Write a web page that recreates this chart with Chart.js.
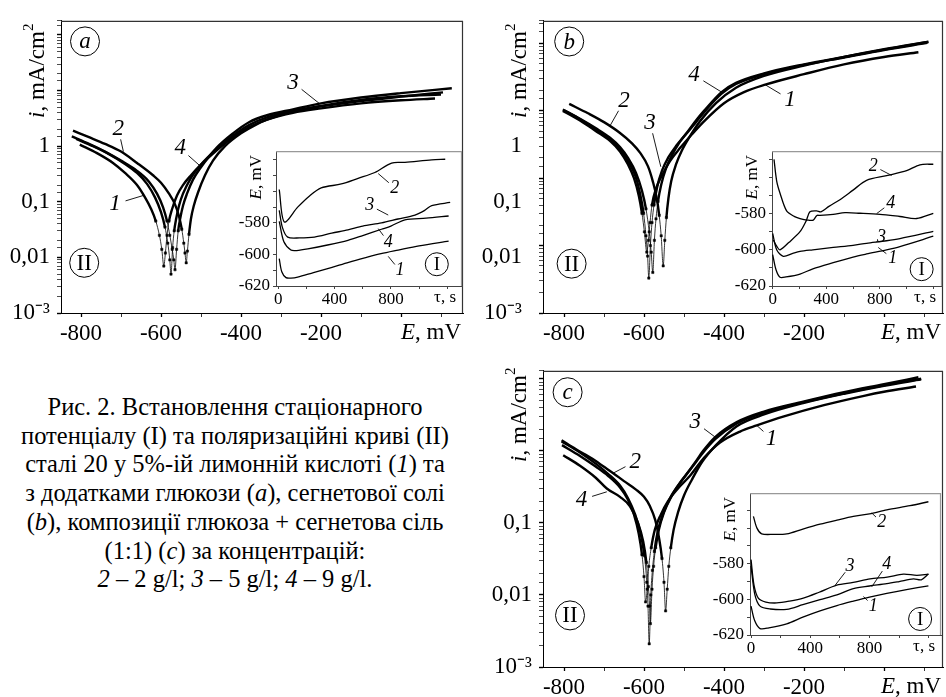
<!DOCTYPE html>
<html>
<head>
<meta charset="utf-8">
<script src="https://cdn.jsdelivr.net/npm/chart.js@4.4.1/dist/chart.umd.min.js"></script>
<style>
  html, body { margin: 0; padding: 0; background: #fff; }
  #page { position: relative; width: 946px; height: 697px; overflow: hidden; }
  .box { position: absolute; }
  #caption {
    position: absolute; left: 0; top: 393px; width: 470px; text-align: center;
    font-family: 'Liberation Serif', 'Times New Roman', serif;
    font-size: 24.5px; line-height: 28.7px; color: #000; white-space: nowrap;
  }
</style>
</head>
<body>
<div id="page">
  <div class="box" style="left:0;top:0"><canvas id="mainA" width="470" height="345"></canvas></div>
  <div class="box" style="left:470px;top:0"><canvas id="mainB" width="476" height="345"></canvas></div>
  <div class="box" style="left:470px;top:350px"><canvas id="mainC" width="476" height="347"></canvas></div>
  <div class="box" style="left:228px;top:138px"><canvas id="insetA" width="238" height="168"></canvas></div>
  <div class="box" style="left:724px;top:138px"><canvas id="insetB" width="222" height="168"></canvas></div>
  <div class="box" style="left:702px;top:480px"><canvas id="insetC" width="244" height="175"></canvas></div>
  <div id="caption">
    Рис. 2. Встановлення стаціонарного<br>
    потенціалу (I) та поляризаційні криві (II)<br>
    сталі 20 у 5%-ій лимонній кислоті (<i>1</i>) та<br>
    з додатками глюкози (<i>a</i>), сегнетової солі<br>
    (<i>b</i>), композиції глюкоза + сегнетова сіль<br>
    (1:1) (<i>c</i>) за концентрацій:<br>
    <i>2</i> – 2 g/l; <i>3</i> – 5 g/l; <i>4</i> – 9 g/l.
  </div>
</div>
<script>
// ---- polarization curves (II): E, mV  /  i, mA/cm2 ----
// panel a (glucose)
const aE1 = [-803,-760,-720,-690,-660,-640,-625,-613,-604,-598,-593,-589,-585,-580,-572,-560,-545,-525,-502,-460,-420,-380,-335,-270,-200,-100,0,85];
const aI1 = [1.07,0.75,0.5,0.33,0.2,0.12,0.075,0.045,0.025,0.014,0.007,0.012,0.025,0.045,0.075,0.13,0.2,0.3,0.45,0.85,1.45,2.2,3.0,4.0,4.8,5.9,6.7,7.2];
const aE2 = [-820,-780,-740,-700,-660,-620,-600,-580,-565,-555,-548,-543,-540,-537,-534,-530,-525,-518,-507,-490,-470,-440,-400,-360,-335,-270,-200,-100,0,100];
const aI2 = [1.9,1.45,1.1,0.8,0.5,0.3,0.22,0.14,0.09,0.055,0.032,0.018,0.012,0.008,0.013,0.026,0.05,0.085,0.15,0.3,0.55,1.0,1.7,2.5,3.0,4.2,5.3,6.8,7.9,8.5];
const aE3 = [-823,-780,-740,-700,-660,-630,-610,-595,-585,-578,-572,-568,-565,-561,-557,-552,-545,-535,-520,-502,-460,-420,-380,-335,-270,-200,-100,0,127];
const aI3 = [1.5,1.1,0.8,0.55,0.36,0.23,0.14,0.08,0.045,0.025,0.014,0.009,0.006,0.014,0.03,0.05,0.085,0.14,0.25,0.4,0.95,1.7,2.7,3.6,4.6,5.9,7.5,9.0,11];
const aE4 = [-812,-770,-730,-690,-660,-635,-615,-600,-590,-583,-578,-575,-571,-567,-562,-555,-545,-525,-502,-460,-420,-380,-335,-270,-200,-100,0,105];
const aI4 = [1.35,1.0,0.72,0.48,0.33,0.21,0.12,0.065,0.035,0.018,0.009,0.005,0.015,0.03,0.05,0.085,0.14,0.27,0.45,0.9,1.55,2.4,3.3,4.3,5.2,6.5,7.8,9.3];

// panel b (Rochelle salt)
const bE1 = [-803,-760,-720,-685,-660,-640,-625,-613,-605,-599,-593,-589,-585,-580,-570,-555,-535,-510,-480,-450,-400,-350,-297,-200,-100,0,86];
const bI1 = [1.0,0.72,0.5,0.36,0.25,0.16,0.1,0.055,0.03,0.016,0.008,0.012,0.022,0.04,0.07,0.11,0.18,0.28,0.45,0.7,1.3,1.9,2.45,3.5,4.9,6.3,7.4];
const bE2 = [-787,-740,-700,-660,-630,-610,-590,-578,-568,-562,-557,-552,-548,-544,-539,-532,-520,-505,-485,-460,-420,-370,-300,-200,-100,0,111];
const bI2 = [1.27,0.92,0.68,0.47,0.33,0.24,0.15,0.09,0.05,0.028,0.014,0.005,0.012,0.026,0.05,0.09,0.16,0.26,0.42,0.7,1.3,2.2,3.3,4.7,6.3,8.2,10.6];
const bE3 = [-803,-760,-720,-685,-660,-640,-622,-610,-601,-595,-591,-588,-584,-580,-575,-567,-555,-540,-520,-495,-470,-450,-406,-370,-300,-200,-100,0,108];
const bI3 = [1.05,0.75,0.53,0.38,0.27,0.18,0.11,0.06,0.03,0.014,0.007,0.0033,0.01,0.022,0.04,0.075,0.13,0.2,0.3,0.45,0.68,0.95,1.8,2.5,3.5,4.8,6.2,8.0,10.2];
const bE4 = [-800,-760,-720,-685,-660,-640,-620,-605,-595,-587,-582,-578,-574,-570,-565,-557,-545,-530,-510,-490,-470,-450,-406,-370,-300,-200,-100,0,111];
const bI4 = [1.02,0.76,0.55,0.4,0.29,0.2,0.12,0.065,0.035,0.016,0.008,0.004,0.012,0.025,0.045,0.08,0.14,0.22,0.35,0.5,0.72,1.0,1.9,2.6,3.6,4.9,6.3,8.1,10.5];

// panel c (glucose + Rochelle salt)
const cE1 = [-805,-760,-720,-690,-660,-640,-625,-613,-605,-600,-596,-592,-588,-582,-573,-558,-540,-515,-485,-450,-410,-360,-318,-250,-150,-50,0,80];
const cI1 = [1.2,0.85,0.6,0.45,0.31,0.21,0.13,0.07,0.036,0.018,0.008,0.012,0.025,0.045,0.08,0.13,0.2,0.3,0.45,0.8,1.3,1.85,2.25,3.0,4.3,5.8,6.6,7.8];
const cE2 = [-806,-770,-730,-700,-677,-650,-620,-600,-585,-572,-562,-555,-550,-546,-542,-538,-533,-526,-515,-500,-480,-455,-420,-368,-300,-202,-100,0,93];
const cI2 = [1.4,1.05,0.78,0.6,0.49,0.38,0.29,0.23,0.17,0.11,0.06,0.032,0.015,0.006,0.012,0.025,0.045,0.08,0.14,0.24,0.4,0.7,1.2,2.2,3.2,4.6,6.2,8.0,9.8];
const cE3 = [-806,-760,-720,-690,-660,-640,-622,-608,-599,-593,-590,-587,-583,-579,-574,-566,-553,-535,-510,-493,-470,-452,-422,-368,-300,-202,-100,0,86];
const cI3 = [1.35,0.95,0.66,0.48,0.33,0.22,0.13,0.07,0.035,0.015,0.007,0.0021,0.01,0.022,0.04,0.075,0.13,0.22,0.36,0.48,0.72,1.0,1.55,2.5,3.5,4.8,6.5,8.4,10.5];
const cE4 = [-802,-760,-720,-693,-660,-635,-615,-602,-594,-589,-586,-584,-580,-576,-571,-563,-550,-532,-508,-490,-470,-452,-422,-368,-300,-202,-100,0,93];
const cI4 = [0.87,0.62,0.42,0.3,0.23,0.17,0.1,0.055,0.028,0.013,0.007,0.004,0.012,0.025,0.045,0.08,0.14,0.23,0.37,0.5,0.7,0.95,1.45,2.4,3.4,4.7,6.3,8.1,10.0];

// ---- stationary potential insets (I): tau, s  /  E, mV ----
const iaT1 = [7,25,55,90,138,250,376,500,614,730,852,1000,1210];
const iaE1 = [-602.6,-611,-614.7,-615,-614.4,-611.5,-608.3,-605,-602.2,-599.5,-597.2,-594.5,-591.5];
const iaT2 = [7,43,138,220,305,448,567,686,805,900,1090,1186];
const iaE2 = [-558.8,-579.4,-570,-563,-557.8,-555.3,-551.7,-548,-542,-541.6,-540,-539.6];
const iaT3 = [7,30,67,150,257,380,495,600,733,850,971,1040,1090,1221];
const iaE3 = [-572,-583,-589,-589.5,-589,-586.5,-584.4,-582,-580,-577.5,-575,-572,-569,-567];
const iaT4 = [7,40,90,130,210,350,495,600,733,800,900,1050,1210];
const iaE4 = [-579,-592,-597.2,-597.5,-596.5,-594,-591,-588,-584,-582,-578,-577,-575.6];

const ibT1 = [0,25,55,100,204,300,452,600,701,850,950,1199];
const ibE1 = [-602.6,-611,-615.2,-615,-613.4,-610.5,-607.1,-604,-602.3,-600,-598.2,-592.5];
const ibT2 = [5,30,55,120,204,250,278,328,360,420,502,600,701,851,1000,1099,1199];
const ibE2 = [-594.6,-598,-600,-596,-590,-584,-579,-578.5,-579,-576,-572.3,-567,-561.6,-559,-556.3,-553,-552.7];
const ibT3 = [0,30,79,150,204,300,452,600,701,850,950,1199];
const ibE3 = [-591,-600,-603.6,-602,-600.9,-600,-598.7,-597.5,-596.4,-595,-593.8,-589.8];
const ibT4 = [10,30,55,104,160,204,260,303,330,353,452,540,652,801,950,1075,1199];
const ibE4 = [-550,-562,-568.7,-578.5,-581.5,-582.7,-583.6,-583.6,-581,-581,-580.4,-579.5,-579.8,-580.4,-581.6,-582.7,-579.8];

const icT1 = [0,25,61,120,241,350,466,580,691,800,917,1050,1198];
const icE1 = [-603.8,-612,-616.4,-616,-613.7,-610,-606.5,-603.5,-601,-598.7,-596.6,-594.5,-592.4];
const icT2 = [16,40,72,150,241,350,466,580,691,800,917,1074,1198];
const icE2 = [-553.4,-560,-563.2,-563.5,-563.2,-560.5,-557.8,-555.5,-553.4,-552,-549.7,-547.4,-545.2];
const icT3 = [0,20,49,100,174,260,353,460,579,690,804,920,1029,1120,1198];
const icE3 = [-577.7,-592,-599.3,-601.5,-602,-601,-599.3,-596,-592,-590.5,-588.5,-587.5,-585.8,-586.5,-585.8];
const icT4 = [0,25,61,130,241,350,466,580,691,800,917,1000,1097,1150,1198];
const icE4 = [-581.2,-597,-603.8,-605.4,-605.6,-603,-600.2,-597.5,-593.9,-592.5,-591.2,-590,-588.5,-589,-585.8];

// ticks and tick labels
const mainXTicks = [-800,-700,-600,-500,-400,-300,-200,-100,0,100];
const xTickLabels = [-800, -600, -400, -200];
const decadeLabels = { "-3": "10⁻³", "-2": "0,01", "-1": "0,1", "0": "1" };
const insetXTicks = [0,200,400,600,800,1000,1200];
const insetXLabels = [0, 400, 800];
const insetYTicks = [-620,-610,-600,-590,-580,-570,-560,-550,-540];
const insetYLabels = [-620, -600, -580];

const serif = "'Liberation Serif', 'Times New Roman', serif";
Chart.defaults.font.family = serif;
Chart.defaults.color = "#000";

function isDecade(v) {
  const l = Math.log10(v);
  return Math.abs(l - Math.round(l)) < 1e-6;
}

function fixedTicks(list) {
  return (s) => { s.ticks = list.filter((v) => v >= s.min && v <= s.max).map((v) => ({ value: v })); };
}

function drawRich(ctx, parts, x, y, size, rot, align) {
  ctx.save();
  ctx.translate(x, y);
  if (rot) ctx.rotate(-Math.PI / 2);
  const fontOf = (p) => (p[1] === "i" ? "italic " : "") + (p[1] === "s" ? Math.round(size * 0.65) : size) + "px " + serif;
  let w = 0;
  parts.forEach((p) => { ctx.font = fontOf(p); w += ctx.measureText(p[0]).width; });
  let cx = align === "right" ? -w : -w / 2;
  ctx.textAlign = "left";
  ctx.textBaseline = "middle";
  parts.forEach((p) => {
    ctx.font = fontOf(p);
    ctx.fillText(p[0], cx, p[1] === "s" ? -size * 0.38 : 0);
    cx += ctx.measureText(p[0]).width;
  });
  ctx.restore();
}

// curve numbers, circled marks, frame and axis titles
const notes = {
  id: "notes",
  afterDraw(chart, args, o) {
    const ctx = chart.ctx;
    const a = chart.chartArea;
    const X = chart.scales.x, Y = chart.scales.y;
    ctx.save();
    ctx.fillStyle = "#000";
    ctx.strokeStyle = o.frame;
    ctx.lineWidth = o.frameWidth;
    ctx.beginPath();
    ctx.moveTo(a.left, a.top + 0.5);
    ctx.lineTo(a.right - 0.5, a.top + 0.5);
    ctx.lineTo(a.right - 0.5, a.bottom);
    ctx.stroke();

    ctx.strokeStyle = "#000";
    ctx.textAlign = "center";
    ctx.textBaseline = "middle";
    o.labels.forEach((l) => {
      const x = X.getPixelForValue(l.x), y = Y.getPixelForValue(l.y);
      const tx = X.getPixelForValue(l.tx), ty = Y.getPixelForValue(l.ty);
      const d = Math.hypot(tx - x, ty - y);
      ctx.lineWidth = 0.9;
      ctx.beginPath();
      ctx.moveTo(x + (tx - x) / d * o.gap, y + (ty - y) / d * o.gap);
      ctx.lineTo(tx, ty);
      ctx.stroke();
      ctx.font = "italic " + o.size + "px " + serif;
      ctx.fillText(l.t, x, y);
    });
    o.marks.forEach((m) => {
      const x = X.getPixelForValue(m.x), y = Y.getPixelForValue(m.y);
      ctx.lineWidth = 1;
      ctx.beginPath();
      ctx.arc(x, y, o.r, 0, Math.PI * 2);
      ctx.stroke();
      ctx.font = (m.it ? "italic " : "") + o.markSize + "px " + serif;
      ctx.fillText(m.t, x, y + 1);
    });
    drawRich(ctx, o.yTitle, a.left + o.yPos[0], a.top + o.yPos[1], o.titleSize, true, "center");
    drawRich(ctx, o.xTitle, a.right + o.xPos[0], a.bottom + o.xPos[1], o.titleSize, false, "right");
    ctx.restore();
  },
};

function mainChart(id, curves, o) {
  const datasets = curves.map(([E, I]) => ({
    data: E.map((e, k) => ({ x: e, y: I[k] })),
    borderColor: "#000",
    backgroundColor: "#000",
    borderWidth: 2.4,
    cubicInterpolationMode: "monotone",
    pointStyle: "rect",
    pointRadius: (c) => (c.raw && c.raw.y < 0.05 ? 1.6 : 0),
    pointBorderWidth: 0.5,
    segment: { borderWidth: (c) => (c.p0.parsed.y < 0.05 && c.p1.parsed.y < 0.05 ? 0.8 : 2.4) },
    xAxisID: "x",
    yAxisID: "y",
  }));
  const tickFont = { size: 23, family: serif };
  const decadeLabel = (v) => {
    if (!isDecade(v)) return "";
    const k = String(Math.round(Math.log10(v)));
    return o.showDecades.includes(k) ? decadeLabels[k] : "";
  };
  const scales = {
    x: {
      type: "linear", min: o.xMin, max: o.xMax,
      afterBuildTicks: fixedTicks(mainXTicks),
      afterFit: (s) => { s.height = o.xH; },
      border: { color: "#000", width: 1 },
      grid: { drawOnChartArea: false, tickLength: 4, tickColor: "#000", tickWidth: (c) => (c.tick && c.tick.value % 200 === 0 ? 1.3 : 0.8) },
      ticks: {
        autoSkip: false, maxRotation: 0, padding: 3, color: "#000", font: tickFont,
        callback: (v) => (xTickLabels.includes(v) ? String(v) : ""),
      },
    },
    y: {
      type: "logarithmic", min: 1e-3, max: o.yMax, weight: 0,
      afterFit: (s) => { s.width = o.yW; },
      border: { color: "#000", width: 1 },
      grid: { drawOnChartArea: false, tickLength: 4, tickColor: "#000", tickWidth: (c) => (c.tick && isDecade(c.tick.value) ? 1.4 : 0.7) },
      ticks: { display: !o.shiftedLabels, autoSkip: false, padding: 7, color: "#000", font: tickFont, callback: decadeLabel },
    },
  };
  if (o.shiftedLabels) {
    // decade labels in panel b sit where panel a has them
    scales.y2 = {
      type: "logarithmic", position: "left", min: 1e-3, max: o.labelMax, weight: 1,
      afterFit: (s) => { s.width = o.y2W; },
      grid: { display: false }, border: { display: false },
      ticks: { autoSkip: false, padding: 7, color: "#000", font: tickFont, callback: decadeLabel },
    };
  }
  return new Chart(document.getElementById(id), {
    type: "line",
    data: { datasets },
    plugins: [notes],
    options: {
      responsive: false, animation: false, devicePixelRatio: 1,
      layout: { padding: { top: o.padTop, right: o.padRight, left: 0, bottom: 0 } },
      plugins: {
        legend: { display: false }, tooltip: { enabled: false },
        notes: {
          frame: "#333", frameWidth: 1.2, labels: o.labels, marks: o.marks, gap: 11, size: 23,
          r: 14.5, markSize: 23, titleSize: 23,
          yTitle: [["i", "i"], [", mA/cm", ""], ["2", "s"]], yPos: o.yPos,
          xTitle: [["E", "i"], [", mV", ""]], xPos: [-2, 20],
        },
      },
      scales,
    },
  });
}

function insetChart(id, curves, o) {
  const datasets = curves.map(([T, E]) => ({
    data: T.map((t, k) => ({ x: t, y: E[k] })),
    borderColor: "#000", borderWidth: 1.3, pointRadius: 0, tension: 0.3,
  }));
  const tickFont = { size: 17, family: serif };
  return new Chart(document.getElementById(id), {
    type: "line",
    data: { datasets },
    plugins: [notes],
    options: {
      responsive: false, animation: false, devicePixelRatio: 1,
      layout: { padding: { top: o.padTop, right: o.padRight, left: 0, bottom: 0 } },
      plugins: {
        legend: { display: false }, tooltip: { enabled: false },
        notes: {
          frame: "#999", frameWidth: 1.2, labels: o.labels, marks: o.marks, gap: 8, size: 18,
          r: 11.5, markSize: 19, titleSize: 17,
          yTitle: [["E", "i"], [", mV", ""]], yPos: [-19, 26],
          xTitle: [["τ, s", ""]], xPos: [-6, 12],
        },
      },
      scales: {
        x: {
          type: "linear", min: o.xMin, max: o.xMax,
          afterBuildTicks: fixedTicks(insetXTicks),
          afterFit: (s) => { s.height = 20; },
          border: { color: "#444", width: 1 },
          grid: { drawOnChartArea: false, tickLength: 3, tickColor: "#444" },
          ticks: {
            autoSkip: false, maxRotation: 0, padding: 0, color: "#000", font: tickFont,
            callback: (v) => (insetXLabels.includes(v) ? String(v) : ""),
          },
        },
        y: {
          type: "linear", min: -620, max: o.yMax,
          afterBuildTicks: fixedTicks(insetYTicks),
          afterFit: (s) => { s.width = 48; },
          border: { color: "#444", width: 1 },
          grid: { drawOnChartArea: false, tickLength: 3, tickColor: "#444" },
          ticks: {
            autoSkip: false, padding: 3, color: "#000", font: tickFont,
            callback: (v) => (insetYLabels.includes(v) ? String(v) : ""),
          },
        },
      },
    },
  });
}

mainChart("mainA", [[aE1, aI1], [aE2, aI2], [aE3, aI3], [aE4, aI4]], {
  xMin: -850, xMax: 155, yMax: 180, xH: 32, yW: 61, padTop: 15, padRight: 7,
  showDecades: ["-3", "-2", "-1", "0"], yPos: [-23, 50],
  labels: [
    { t: "3", x: -270, y: 14, tx: -202, ty: 5.7 },
    { t: "2", x: -707, y: 2.07, tx: -694, ty: 0.8 },
    { t: "4", x: -552, y: 0.92, tx: -502, ty: 0.44 },
    { t: "1", x: -715, y: 0.091, tx: -644, ty: 0.13 },
  ],
  marks: [{ t: "a", it: true, x: -790, y: 76.7 }, { t: "II", x: -792, y: 0.008 }],
});

mainChart("mainB", [[bE1, bI1], [bE2, bI2], [bE3, bI3], [bE4, bI4]], {
  xMin: -852.5, xMax: 147.5, yMax: 21.7, xH: 32, yW: 6, y2W: 67, padTop: 15, padRight: 3,
  shiftedLabels: true, labelMax: 180,
  showDecades: ["-3", "-2", "-1", "0"], yPos: [-23, 50],
  labels: [
    { t: "4", x: -475, y: 3.4, tx: -406, ty: 1.9 },
    { t: "1", x: -235, y: 1.47, tx: -297, ty: 2.44 },
    { t: "2", x: -650, y: 1.39, tx: -685, ty: 0.6 },
    { t: "3", x: -585, y: 0.67, tx: -558, ty: 0.148 },
  ],
  marks: [{ t: "b", it: true, x: -787, y: 10.7 }, { t: "II", x: -781, y: 0.0054 }],
});

mainChart("mainC", [[cE1, cI1], [cE2, cI2], [cE3, cI3], [cE4, cI4]], {
  xMin: -852.5, xMax: 147.5, yMax: 12.9, xH: 30, yW: 73, padTop: 18, padRight: 3,
  showDecades: ["-3", "-2", "-1"], yPos: [-23, 44],
  labels: [
    { t: "3", x: -472, y: 2.5, tx: -422, ty: 1.55 },
    { t: "1", x: -281, y: 1.47, tx: -318, ty: 2.25 },
    { t: "2", x: -622, y: 0.71, tx: -677, ty: 0.49 },
    { t: "4", x: -756, y: 0.21, tx: -693, ty: 0.27 },
  ],
  marks: [{ t: "c", it: true, x: -791, y: 6.5 }, { t: "II", x: -785, y: 0.0052 }],
});

insetChart("insetA", [[iaT1, iaE1], [iaT2, iaE2], [iaT3, iaE3], [iaT4, iaE4]], {
  xMin: -16, xMax: 1305, yMax: -534.5, padTop: 8, padRight: 4,
  labels: [
    { t: "2", x: 828, y: -557.8, tx: 710, ty: -548.7 },
    { t: "3", x: 650, y: -568.9, tx: 781, ty: -575 },
    { t: "4", x: 781, y: -592.1, tx: 710, ty: -583.6 },
    { t: "1", x: 864, y: -610.3, tx: 781, ty: -601.2 },
  ],
  marks: [{ t: "I", x: 1126, y: -606.2 }],
});

insetChart("insetB", [[ibT1, ibE1], [ibT2, ibE2], [ibT3, ibE3], [ibT4, ibE4]], {
  xMin: -5, xMax: 1264, yMax: -545.5, padTop: 9, padRight: 4,
  labels: [
    { t: "2", x: 751, y: -553.6, tx: 888, ty: -558.9 },
    { t: "4", x: 881, y: -574.1, tx: 776, ty: -580 },
    { t: "3", x: 813, y: -592.8, tx: 776, ty: -595.5 },
    { t: "1", x: 896, y: -604.8, tx: 788, ty: -598.7 },
  ],
  marks: [{ t: "I", x: 1112, y: -610.7 }],
});

insetChart("insetC", [[icT1, icE1], [icT2, icE2], [icT3, icE3], [icT4, icE4]], {
  xMin: -7, xMax: 1283, yMax: -540.4, padTop: 8, padRight: 5,
  labels: [
    { t: "2", x: 883, y: -556.9, tx: 815, ty: -551.5 },
    { t: "3", x: 669, y: -581.2, tx: 568, ty: -592.1 },
    { t: "4", x: 917, y: -580.4, tx: 815, ty: -593 },
    { t: "1", x: 826, y: -603.8, tx: 759, ty: -598.4 },
  ],
  marks: [{ t: "I", x: 1142, y: -611 }],
});
</script>
</body>
</html>
